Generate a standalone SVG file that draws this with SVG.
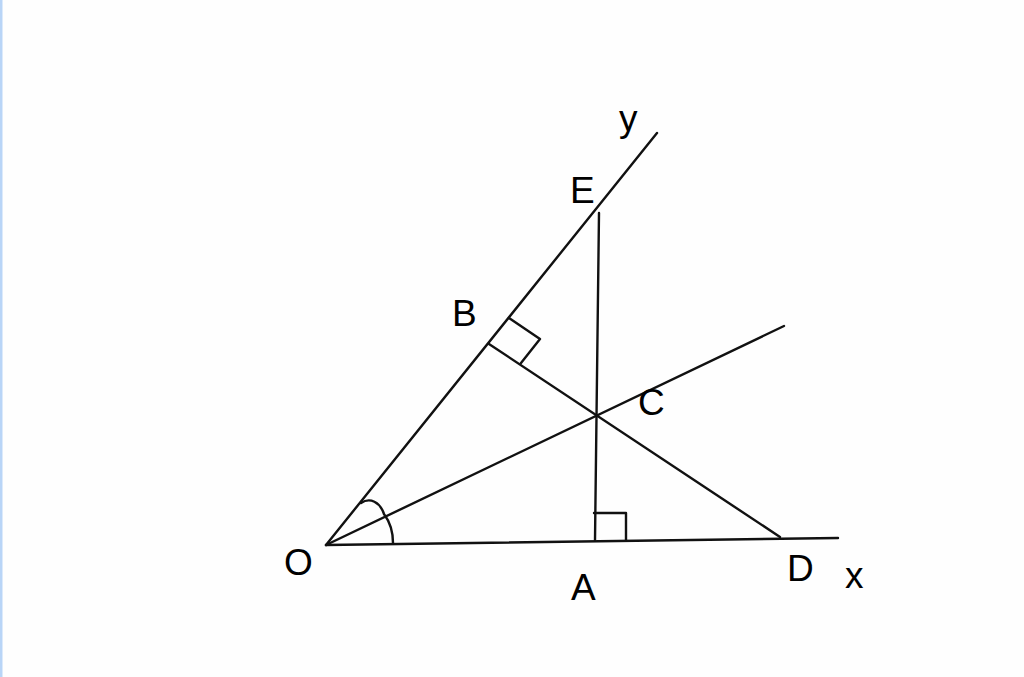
<svg xmlns="http://www.w3.org/2000/svg" width="1024" height="677" viewBox="0 0 1024 677">
<style>
.l{stroke:#111;stroke-width:2.4;fill:none;stroke-linecap:round;stroke-linejoin:round}
.t{font-family:"Liberation Sans",Arial,sans-serif;font-size:37px;fill:#000}
</style>
<rect width="1024" height="677" fill="#fefefe"/>
<rect x="0" y="0" width="2.5" height="677" fill="#b9d5f7"/>
<g id="connectors">
<line class="l" x1="326" y1="545" x2="657" y2="133"/>
<line class="l" x1="326" y1="545" x2="838" y2="538"/>
<line class="l" x1="326" y1="545" x2="784" y2="326"/>
<line class="l" x1="599" y1="213" x2="595" y2="540"/>
<line class="l" x1="489" y1="344" x2="780" y2="537"/>
<polyline class="l" points="509,318 540,339 521,363"/>
<polyline class="l" points="594,513 626,513 626,540"/>
<path class="l" d="M361,503 C370,497 380,502 384,514 C390,522 393,530 393,543"/>
</g>
<g id="O"><text class="t" x="284" y="575">O</text></g>
<g id="A"><text class="t" x="571" y="600">A</text></g>
<g id="D"><text class="t" x="787" y="581">D</text></g>
<g id="x"><text class="t" x="845" y="588">x</text></g>
<g id="B"><text class="t" x="452" y="326">B</text></g>
<g id="C"><text class="t" x="638" y="415">C</text></g>
<g id="E"><text class="t" x="570" y="203">E</text></g>
<g id="y"><text class="t" x="619" y="131">y</text></g>
</svg>
